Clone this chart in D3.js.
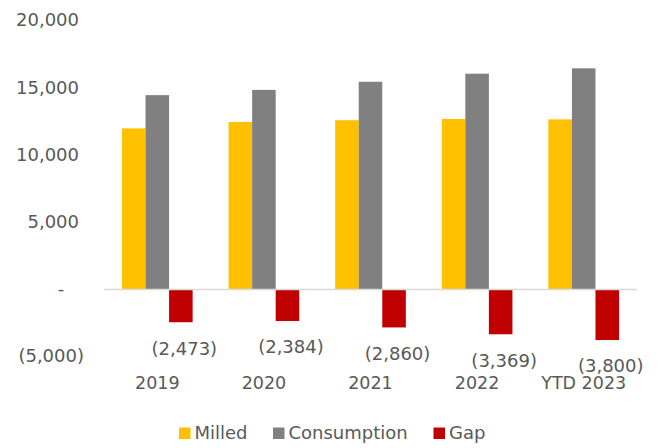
<!DOCTYPE html>
<html>
<head>
<meta charset="utf-8">
<script src="https://cdn.jsdelivr.net/npm/d3@7/dist/d3.min.js"></script>
<style>
  html, body { margin: 0; padding: 0; background: #fff; }
  svg { display: block; font-family: "DejaVu Sans", Verdana, sans-serif; }
</style>
</head>
<body>
<svg id="chart" width="660" height="448"></svg>
<script>
// Sugar milled vs. consumption, thousand tonnes
const categories = ["2019", "2020", "2021", "2022", "YTD 2023"];
const milled = [11950, 12430, 12560, 12650, 12620];
const consumption = [14423, 14814, 15420, 16019, 16420];
const gap = [-2473, -2384, -2860, -3369, -3800];
const seriesNames = ["Milled", "Consumption", "Gap"];
const seriesColors = ["#FFC000", "#808080", "#C00000"];
const yTicks = [-5000, 0, 5000, 10000, 15000, 20000];

const svg = d3.select("#chart");
const textColor = "#595959";
const left = 104, right = 637;

const x = d3.scaleBand().domain(categories).range([left, right])
  .paddingInner(0.337).paddingOuter(0.1685);
const xs = d3.scaleBand().domain(seriesNames).range([0, x.bandwidth()]).padding(0);
const y = d3.scaleLinear().domain([-5000, 20000]).range([356.2, 20.2]);

const fmt = d3.format(",");
const acct = v => v === 0 ? "-" : v < 0 ? "(" + fmt(-v) + ")" : fmt(v);

// Value axis labels (accounting style: negatives in parentheses, zero as a dash)
const yAxis = d3.axisLeft(y).tickValues(yTicks).tickFormat(acct).tickSize(0).tickPadding(0);
const ga = svg.append("g").attr("transform", `translate(79,0)`).call(yAxis);
ga.select(".domain").remove();
ga.selectAll("text")
  .attr("font-size", 18)
  .attr("fill", textColor)
  .attr("font-family", "DejaVu Sans, Verdana, sans-serif")
  .attr("x", d => d < 0 ? 5 : d === 0 ? -18 : 0)
  .attr("text-anchor", d => d === 0 ? "middle" : "end");

// Bars
const rows = categories.map((c, i) => ({ c, vals: [milled[i], consumption[i], gap[i]] }));
const groups = svg.append("g").selectAll("g").data(rows).join("g")
  .attr("transform", d => `translate(${x(d.c)},0)`);
groups.selectAll("rect")
  .data(d => d.vals.map((v, j) => ({ v, s: seriesNames[j], j })))
  .join("rect")
  .attr("x", d => xs(d.s))
  .attr("width", xs.bandwidth())
  .attr("y", d => y(Math.max(0, d.v)))
  .attr("height", d => Math.abs(y(d.v) - y(0)))
  .attr("fill", d => seriesColors[d.j]);

// Zero line
svg.append("line")
  .attr("x1", left).attr("x2", right)
  .attr("y1", y(0) + 0.5).attr("y2", y(0) + 0.5)
  .attr("stroke", "#d9d9d9").attr("stroke-width", 1.5);

// Gap data labels
svg.append("g").selectAll("text").data(rows).join("text")
  .attr("x", d => x(d.c) + xs("Gap") + xs.bandwidth() / 2 + 3.5)
  .attr("y", d => y(d.vals[2]) + 26)
  .attr("dy", "0.35em")
  .attr("text-anchor", "middle")
  .attr("font-size", 18)
  .attr("fill", textColor)
  .text(d => acct(d.vals[2]));

// Category labels
svg.append("g").selectAll("text").data(categories).join("text")
  .attr("x", d => x(d) + x.bandwidth() / 2)
  .attr("y", 383)
  .attr("dy", "0.35em")
  .attr("text-anchor", "middle")
  .attr("font-size", 17.5)
  .attr("fill", textColor)
  .text(d => d);

// Legend
const legendItems = [
  { name: "Milled", x: 179 },
  { name: "Consumption", x: 273 },
  { name: "Gap", x: 433.5 }
];
const lg = svg.append("g").selectAll("g").data(legendItems).join("g")
  .attr("transform", d => `translate(${d.x},433)`);
lg.append("rect").attr("x", 0).attr("y", -5.5).attr("width", 11.5).attr("height", 11.5)
  .attr("fill", (d, i) => seriesColors[i]);
lg.append("text").attr("x", 15.5).attr("dy", "0.35em")
  .attr("font-size", 18).attr("fill", textColor).text(d => d.name);
</script>
</body>
</html>
